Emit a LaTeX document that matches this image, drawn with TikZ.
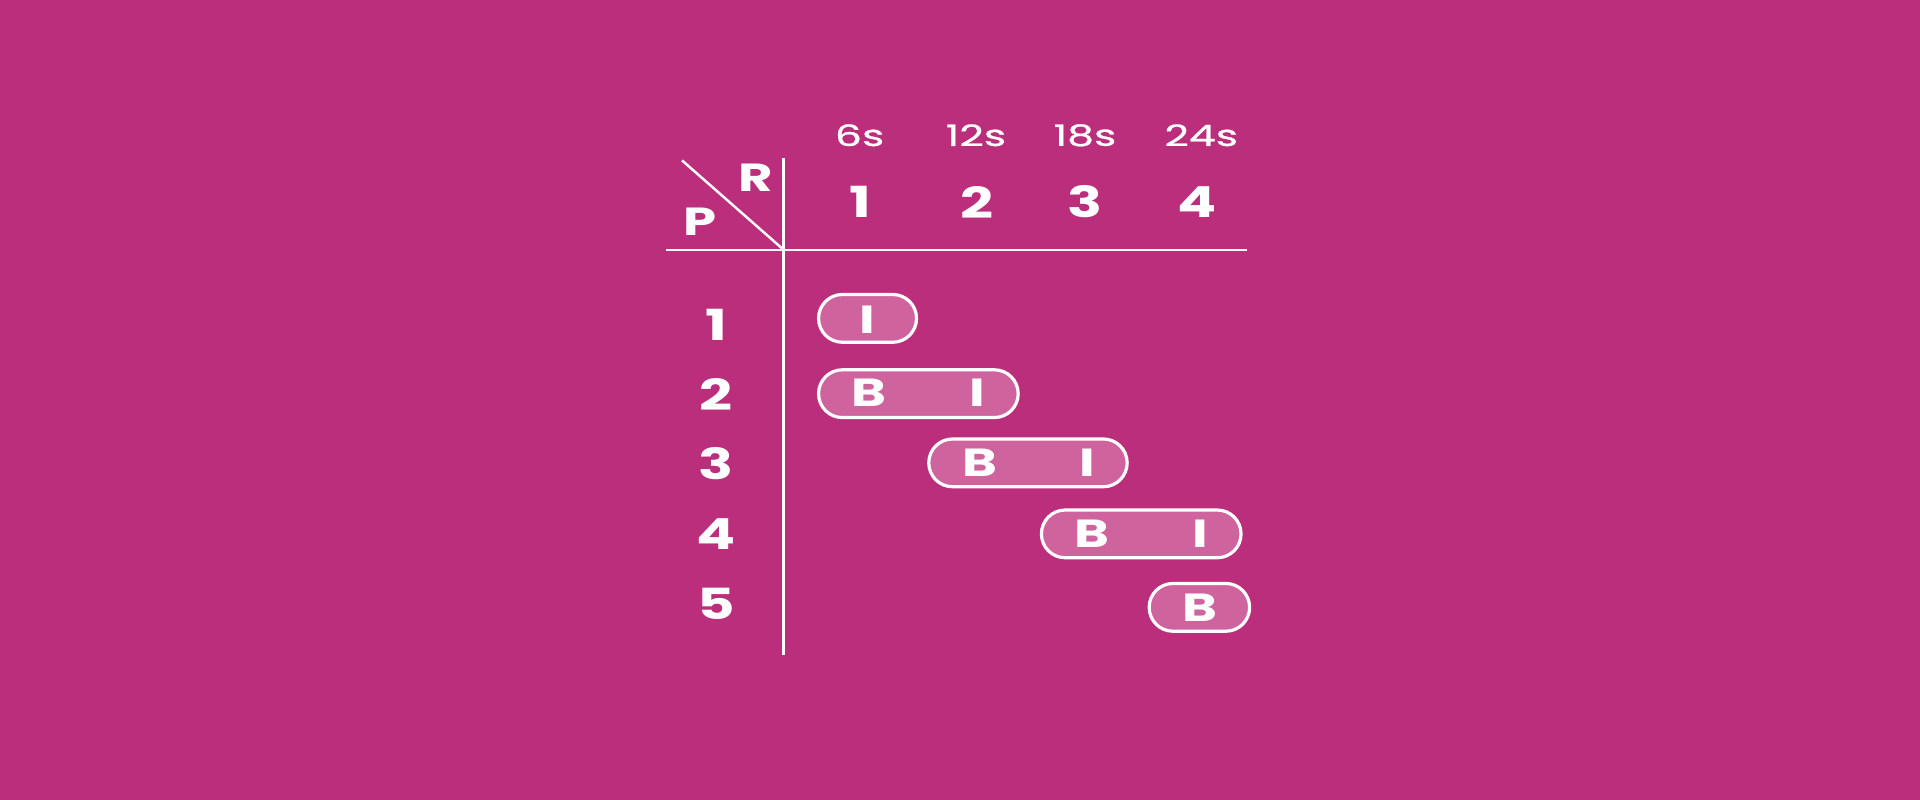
\documentclass[tikz,border=0pt]{standalone}
\usepackage{fontspec}
\newfontfamily\bfont{Poppins}[FakeStretch=1.35]
\newfontfamily\sfont{Poppins}[FakeStretch=1.45,FakeBold=0.8]
\definecolor{bg}{RGB}{187,46,123}
\definecolor{pillfill}{RGB}{206,99,158}
\begin{document}
\begin{tikzpicture}[x=1pt,y=-1pt,
 line/.style={draw=white, line width=2pt},
 pill/.style={draw=white, line width=2.6pt, fill=pillfill, rounded corners=19.4pt, minimum height=39pt, inner sep=0pt},
 big/.style={text=white, font=\bfont\bfseries\fontsize{35}{35}\selectfont, inner sep=0pt},
 mid/.style={text=white, font=\bfont\bfseries\fontsize{32}{32}\selectfont, inner sep=0pt},
 small/.style={text=white, font=\sfont\fontsize{24}{24}\selectfont, inner sep=0pt},
]
\fill[bg] (0,0) rectangle (1568,653.33);
\coordinate (vt) at (640,129);
\coordinate (vb) at (640,535);
\coordinate (hl) at (544,204);
\coordinate (hr) at (1018,204);
\coordinate (dt) at (557,131);
\coordinate (cc) at (640,204);
\draw[line] (vt) -- (vb);
\draw[line] (hl) -- (hr);
\draw[line] (dt) -- (cc);
% corner labels
\node[mid] (R) at (617,145) {R};
\node[mid] (P) at (572,181) {P};
% time headers
\node[small] (t1) at (702,110.5) {6s};
\node[small] (t2) at (797,110.5) {12s};
\node[small] (t3) at (886,110.5) {18s};
\node[small] (t4) at (981,110.5) {24s};
% column numbers
\node[big] (c1) at (703,165) {1};
\node[big] (c2) at (798,165) {2};
\node[big] (c3) at (886,165) {3};
\node[big] (c4) at (978,165) {4};
% row numbers
\node[big] (r1) at (585,265) {1};
\node[big] (r2) at (585,322) {2};
\node[big] (r3) at (585,379) {3};
\node[big] (r4) at (585,436) {4};
\node[big] (r5) at (585,493) {5};
% pills
\node[pill, minimum width=80pt] (p1) at (708.5,260) {};
\node[pill, minimum width=163pt] (p2) at (750,321.5) {};
\node[pill, minimum width=162pt] (p3) at (839.5,378) {};
\node[pill, minimum width=163pt] (p4) at (932,436) {};
\node[pill, minimum width=82pt] (p5) at (979.5,496) {};
% letters
\node[mid] (i1) at (708,261) {I};
\node[mid] (b2) at (710,321) {B};
\node[mid] (i2) at (798,321) {I};
\node[mid] (b3) at (800,378) {B};
\node[mid] (i3) at (888,378) {I};
\node[mid] (b4) at (892,436) {B};
\node[mid] (i4) at (980,436) {I};
\node[mid] (b5) at (980,496) {B};
\end{tikzpicture}
\end{document}
